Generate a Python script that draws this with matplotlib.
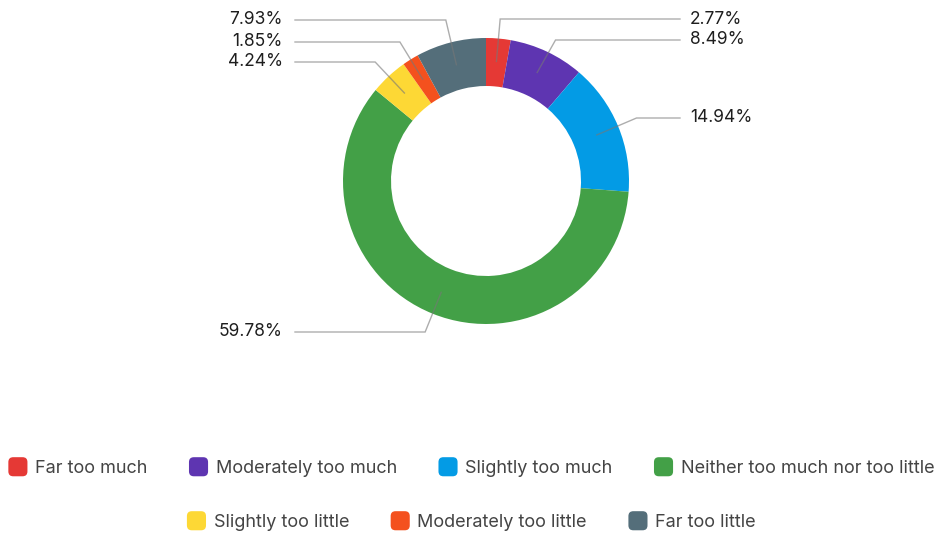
import numpy as np
import matplotlib.pyplot as plt
from matplotlib.patches import FancyBboxPatch
from matplotlib.legend_handler import HandlerPatch

# data
categories = ["Far too much", "Moderately too much", "Slightly too much",
              "Neither too much nor too little", "Slightly too little",
              "Moderately too little", "Far too little"]
shares = [2.77, 8.49, 14.94, 59.78, 4.24, 1.85, 7.93]
colors = ["#E53935", "#5E35B1", "#039BE5", "#43A047", "#FDD835", "#F4511E", "#546E7A"]

# label rows (pixels from top) for each slice
label_rows = [19, 40, 118, 332, 62, 42, 20]

W, H = 941, 535
fig = plt.figure(figsize=(W / 100, H / 100), dpi=100)
ax = fig.add_axes([0, 0, 1, 1])

cx, cy, R = 486, H - 181, 143
wedges, _ = ax.pie(shares, colors=colors, startangle=90, counterclock=False,
                   center=(cx, cy), radius=R,
                   wedgeprops=dict(width=48, linewidth=0))
ax.set_xlim(0, W)
ax.set_ylim(0, H)
ax.set_aspect("auto")
ax.axis("off")

# leader lines + percentage labels
for w, val, row in zip(wedges, shares, label_rows):
    ang = np.deg2rad((w.theta1 + w.theta2) / 2)
    x0, y0 = cx + 120 * np.cos(ang), cy + 120 * np.sin(ang)
    xe = cx + 163 * np.cos(ang)
    ye = H - row
    right = np.cos(ang) > 0
    xl = 680 if right else 295
    ax.plot([x0, xe, xl], [y0, ye, ye], color="#777777", alpha=0.6, lw=1,
            solid_joinstyle="miter")
    ax.text(690 if right else 283, ye, f"{val:.2f}%", fontsize=12.5,
            family="Inter", color="#1e1e1e",
            ha="left" if right else "right", va="center")


# rounded squares for the legend
def rounded_square(legend, orig_handle, xdescent, ydescent, width, height, fontsize):
    s = min(width, height)
    return FancyBboxPatch((-xdescent + (width - s) / 2, -ydescent + (height - s) / 2), s, s,
                          boxstyle="round,pad=0,rounding_size=3.5")


hmap = {type(wedges[0]): HandlerPatch(patch_func=rounded_square)}
common = dict(frameon=False, handlelength=1.25, handleheight=1.25,
              handletextpad=0.33, columnspacing=2.2, handler_map=hmap,
              prop=dict(family="Inter", size=13))

leg1 = fig.legend(wedges[:4], categories[:4], ncol=4, loc="center",
                  bbox_to_anchor=(0.5, 1 - 467 / H), **common)
leg2 = fig.legend(wedges[4:], categories[4:], ncol=3, loc="center",
                  bbox_to_anchor=(0.5, 1 - 521 / H), **common)
for leg in (leg1, leg2):
    for t in leg.get_texts():
        t.set_color("#444444")

fig.savefig("out.png", dpi=100)
